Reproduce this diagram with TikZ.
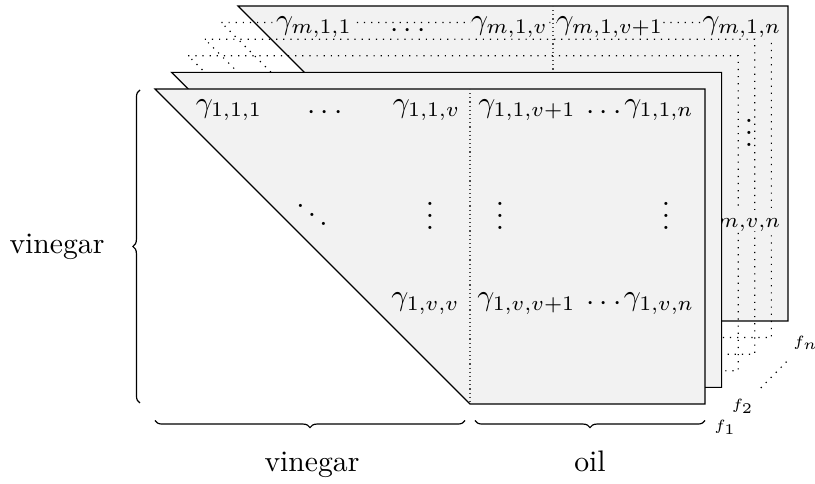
\documentclass[tikz,border=0pt]{standalone}
\usetikzlibrary{decorations.pathreplacing}
\begin{document}
\begin{tikzpicture}[x=0.3367pt,y=-0.3367pt,
  layer/.style={draw=black, fill=black!5, line width=0.4pt},
  ghost/.style={draw=black, dotted, line width=0.4pt},
  divider/.style={draw=black!70, densely dotted, line width=0.4pt},
  cell/.style={fill=black!5, inner sep=0pt, anchor=base},
  lbl/.style={inner sep=0pt, anchor=base},
  brc/.style={decorate, decoration={brace, amplitude=2.4pt}, line width=0.4pt},
  flbl/.style={inner sep=0pt, font=\tiny}
]
\useasboundingbox (0,0) rectangle (815,484);

% back layer f_m
\begin{scope}[shift={(83,-83)}]
  \draw[layer] (155,89) -- (705,89) -- (705,404) -- (470,404) -- cycle;
  \draw[divider] (470,89) -- (470,404);
\end{scope}

% intermediate (dotted) layers
\foreach \k in {2,3,4} {
  \begin{scope}[shift={(16.6*\k,-16.6*\k)}]
    \draw[ghost] (155,89) -- (705,89) -- (705,404) -- (470,404) -- cycle;
  \end{scope}
}

% back layer entries
\node[cell] (m11)  at (314,29.5) {$\gamma_{m,1,1}$};
\node[cell] (mcd)  at (408,37.7) {$\cdots$};
\node[cell] (m1v)  at (509.5,29.5) {$\gamma_{m,1,v}$};
\node[cell] (m1w)  at (610,29.5) {$\gamma_{m,1,v+1}$};
\node[cell] (m1n)  at (742,29.5) {$\gamma_{m,1,n}$};
\node[cell] (mvd)  at (749,146.5) {$\vdots$};
\node[cell] (mvn)  at (742,223) {$\gamma_{m,v,n}$};

% layer f_2
\begin{scope}[shift={(16.6,-16.6)}]
  \draw[layer] (155,89) -- (705,89) -- (705,404) -- (470,404) -- cycle;
\end{scope}

% front layer f_1
\draw[layer] (155,89) -- (705,89) -- (705,404) -- (470,404) -- cycle;
\draw[divider] (470,89) -- (470,404);

% front entries
\node[cell] (a11)  at (229,112.5) {$\gamma_{1,1,1}$};
\node[cell] (acd1) at (325,119.7) {$\cdots$};
\node[cell] (a1v)  at (426.5,112.5) {$\gamma_{1,1,v}$};
\node[cell] (a1w)  at (527,112.5) {$\gamma_{1,1,v+1}$};
\node[cell] (acd2) at (604,119.7) {$\cdots$};
\node[cell] (a1n)  at (659,112.5) {$\gamma_{1,1,n}$};

\node[cell] (add)  at (312,228.5) {$\ddots$};
\node[cell] (avd1) at (430,229.5) {$\vdots$};
\node[cell] (avd2) at (500,229.5) {$\vdots$};
\node[cell] (avd3) at (666,229.5) {$\vdots$};

\node[cell] (avv)  at (425.5,306) {$\gamma_{1,v,v}$};
\node[cell] (avw)  at (526.5,306) {$\gamma_{1,v,v+1}$};
\node[cell] (acd3) at (604,310.7) {$\cdots$};
\node[cell] (avn)  at (659,306) {$\gamma_{1,v,n}$};

% braces
\coordinate (lbT) at (140,90);
\coordinate (lbB) at (140,403);
\draw[brc] (lbB) -- (lbT);
\node[lbl] (lv) at (57,254) {vinegar};

\coordinate (b1L) at (155,420.5);
\coordinate (b1R) at (465,420.5);
\coordinate (b2L) at (475,420.5);
\coordinate (b2R) at (705,420.5);
\draw[brc] (b1R) -- (b1L);
\draw[brc] (b2R) -- (b2L);
\node[lbl] (bv) at (312,472) {vinegar};
\node[lbl] (bo) at (590,472) {oil};

% layer labels
\node[flbl] (f1) at (725,427.5) {$f_1$};
\node[flbl] (f2) at (742.5,406.5) {$f_2$};
\node[flbl] (fn) at (805.5,342.5) {$f_n$};
\draw[ghost, shorten <=5pt, shorten >=4.5pt] (f2) -- (fn);
\end{tikzpicture}
\end{document}
